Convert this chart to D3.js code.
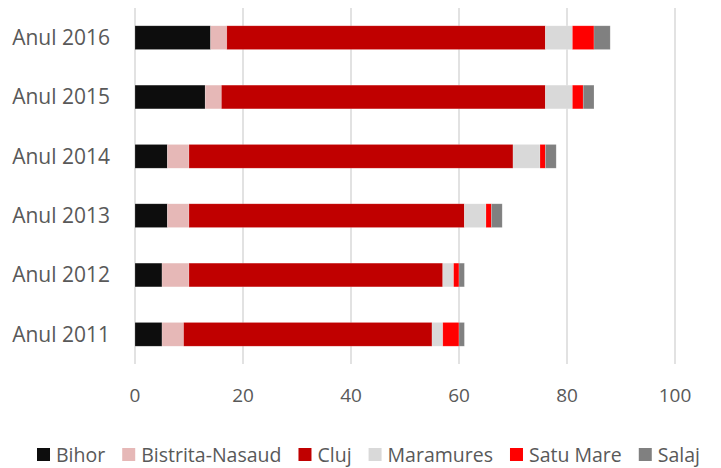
<!DOCTYPE html>
<html>
<head>
<meta charset="utf-8">
<script src="https://cdn.jsdelivr.net/npm/d3@7"></script>
<style>
  body { margin: 0; background: #fff; }
  text { font-family: "Open Sans", "Noto Sans", sans-serif; fill: #595959; }
</style>
</head>
<body>
<div id="chart"></div>
<script>
// years, top to bottom as drawn
const years = ["Anul 2016", "Anul 2015", "Anul 2014", "Anul 2013", "Anul 2012", "Anul 2011"];
const counties = ["Bihor", "Bistrita-Nasaud", "Cluj", "Maramures", "Satu Mare", "Salaj"];
const colors = ["#0d0d0d", "#e6b8b7", "#c00000", "#d9d9d9", "#ff0000", "#808080"];

// values per county, same order as years
const bihor = [14, 13, 6, 6, 5, 5];
const bistrita = [3, 3, 4, 4, 5, 4];
const cluj = [59, 60, 60, 51, 47, 46];
const maramures = [5, 5, 5, 4, 2, 2];
const satuMare = [4, 2, 1, 1, 1, 3];
const salaj = [3, 2, 2, 2, 1, 1];
const xTicks = [0, 20, 40, 60, 80, 100];

const series = [bihor, bistrita, cluj, maramures, satuMare, salaj];
const rows = years.map((y, i) => {
  const r = { year: y };
  counties.forEach((c, j) => r[c] = series[j][i]);
  return r;
});

const width = 721, height = 468;
const margin = { top: 8, right: 46, bottom: 104, left: 135 };

const svg = d3.select("#chart").append("svg")
  .attr("width", width)
  .attr("height", height);

const x = d3.scaleLinear().domain([0, 100]).range([margin.left, margin.left + 540]);
const y = d3.scaleBand().domain(years)
  .range([margin.top, height - margin.bottom])
  .paddingInner(0.6).paddingOuter(0.3);

// gridlines
svg.append("g")
  .selectAll("line")
  .data(xTicks)
  .join("line")
  .attr("x1", d => x(d)).attr("x2", d => x(d))
  .attr("y1", margin.top).attr("y2", height - margin.bottom)
  .attr("stroke", "#d9d9d9")
  .attr("stroke-width", 1.5);

const stacked = d3.stack().keys(counties)(rows);

svg.append("g")
  .selectAll("g")
  .data(stacked)
  .join("g")
  .attr("fill", (d, i) => colors[i])
  .selectAll("rect")
  .data(d => d)
  .join("rect")
  .attr("x", d => x(d[0]))
  .attr("y", d => y(d.data.year))
  .attr("width", d => x(d[1]) - x(d[0]))
  .attr("height", y.bandwidth())
  .attr("stroke", "#ffffff")
  .attr("stroke-opacity", 0.3)
  .attr("stroke-width", 0.6);

// category labels
svg.append("g")
  .selectAll("text")
  .data(years)
  .join("text")
  .attr("x", 110)
  .attr("y", d => y(d) + y.bandwidth() / 2)
  .attr("dy", "0.35em")
  .attr("text-anchor", "end")
  .style("font-size", "21px")
  .text(d => d);

// x tick labels
svg.append("g")
  .selectAll("text")
  .data(xTicks)
  .join("text")
  .attr("x", d => x(d))
  .attr("y", 395)
  .attr("dy", "0.35em")
  .attr("text-anchor", "middle")
  .style("font-size", "19px")
  .text(d => d);

// legend
const legend = svg.append("g");
const items = legend.selectAll("g")
  .data(counties)
  .join("g");
items.append("rect")
  .attr("width", 13).attr("height", 13)
  .attr("y", -7)
  .attr("fill", (d, i) => colors[i]);
items.append("text")
  .attr("x", 19)
  .attr("dy", "0.35em")
  .style("font-size", "19.5px")
  .text(d => d);

let cx = 0;
items.each(function () {
  d3.select(this).attr("transform", `translate(${cx},0)`);
  cx += this.getBBox().width + 17;
});
cx -= 17;
legend.attr("transform", `translate(${(width - cx) / 2 + 8},455)`);
</script>
</body>
</html>
